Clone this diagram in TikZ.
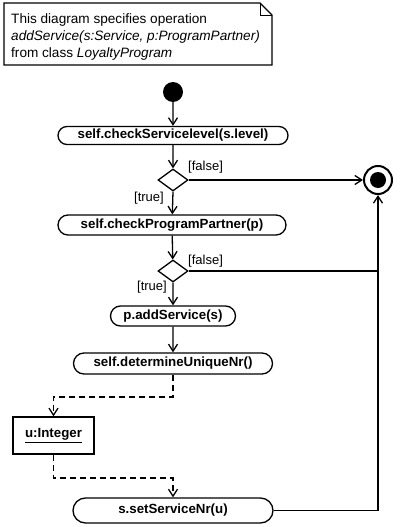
\documentclass[tikz,border=0pt]{standalone}
\usepackage{fontspec}
\setmainfont{Liberation Sans}
\usetikzlibrary{shapes.misc,shapes.geometric,arrows.meta}
\tikzset{
  base/.style={line width=1.3pt},
  action/.style={base,draw,rounded rectangle,inner sep=0pt,font=\fontsize{13.3}{15}\selectfont\bfseries},
  decision/.style={base,draw,diamond,inner sep=0pt,minimum width=30pt,minimum height=22pt},
  flow/.style={base,-{Straight Barb[length=7pt,width=9pt]}},
  dataflow/.style={base,dash pattern=on 6pt off 4pt,-{Straight Barb[length=7pt,width=9pt]}},
  guard/.style={font=\fontsize{13}{15}\selectfont,inner sep=0pt},
}
\begin{document}
\begin{tikzpicture}[x=1pt,y=-1pt]
\useasboundingbox (0,0) rectangle (400,527);
% note
\draw[line width=1.2pt] (4,3) -- (260,3) -- (272,15) -- (272,65) -- (4,65) -- cycle;
\draw[line width=0.9pt] (260,3) -- (260,15) -- (272,15);
\node[anchor=north west,align=left,inner sep=0pt,font=\fontsize{13.6}{17}\selectfont] (note) at (11,13)
  {This diagram specifies operation\\ \textit{addService(s:Service, p:ProgramPartner)}\\ from class \textit{LoyaltyProgram}};
% nodes
\node[circle,fill=black,minimum size=20pt,inner sep=0pt] (start) at (173,92) {};
\node[action,minimum width=230pt,minimum height=18pt] (a1) at (173,135.5) {self.checkServicelevel(s.level)};
\node[decision] (d1) at (173,180) {};
\node[action,minimum width=228pt,minimum height=20pt] (a2) at (172,225) {self.checkProgramPartner(p)};
\node[decision] (d2) at (173,271) {};
\node[action,minimum width=125pt,minimum height=20pt] (a3) at (173,316) {p.addService(s)};
\node[action,minimum width=199pt,minimum height=21pt] (a4) at (173,363.5) {self.determineUniqueNr()};
\node[base,draw,rectangle,minimum width=81pt,minimum height=37pt,inner sep=0pt,font=\fontsize{13.3}{15}\selectfont\bfseries] (u) at (53.5,435.5) {\underline{u:Integer}};
\node[action,minimum width=200pt,minimum height=25pt] (a5) at (173,510.5) {s.setServiceNr(u)};
\node[line width=2pt,draw,circle,minimum size=28pt,inner sep=0pt] (final) at (378,180) {};
\node[circle,fill=black,minimum size=16pt,inner sep=0pt] (finalin) at (final.center) {};
\coordinate (j2) at (378,271);
\coordinate (j5) at (378,510.5);
\coordinate (k1) at (173,397);
\coordinate (k2) at (53.5,397);
\coordinate (k3) at (53.5,478);
\coordinate (k4) at (173,478);
% flows
\draw[flow] (start) -- (a1);
\draw[flow] (a1) -- (d1);
\draw[flow] (d1.east) -- (final.west);
\draw[flow] (d1.south) -- (a2);
\draw[flow] (a2) -- (d2);
\draw[base] (d2.east) -- (j2);
\draw[flow] (d2.south) -- (a3);
\draw[flow] (a3) -- (a4);
\draw[dataflow] (a4.south) -- (k1) -- (k2) -- (u.north);
\draw[dataflow] (u.south) -- (k3) -- (k4) -- (a5.north);
\draw[flow] (a5.east) -- (j5) -- (final.south);
% guards
\node[guard,anchor=west] (g1f) at (188,167) {[false]};
\node[guard,anchor=east] (g1t) at (164,198) {[true]};
\node[guard,anchor=west] (g2f) at (188,261) {[false]};
\node[guard,anchor=east] (g2t) at (167,287) {[true]};
\end{tikzpicture}
\end{document}
